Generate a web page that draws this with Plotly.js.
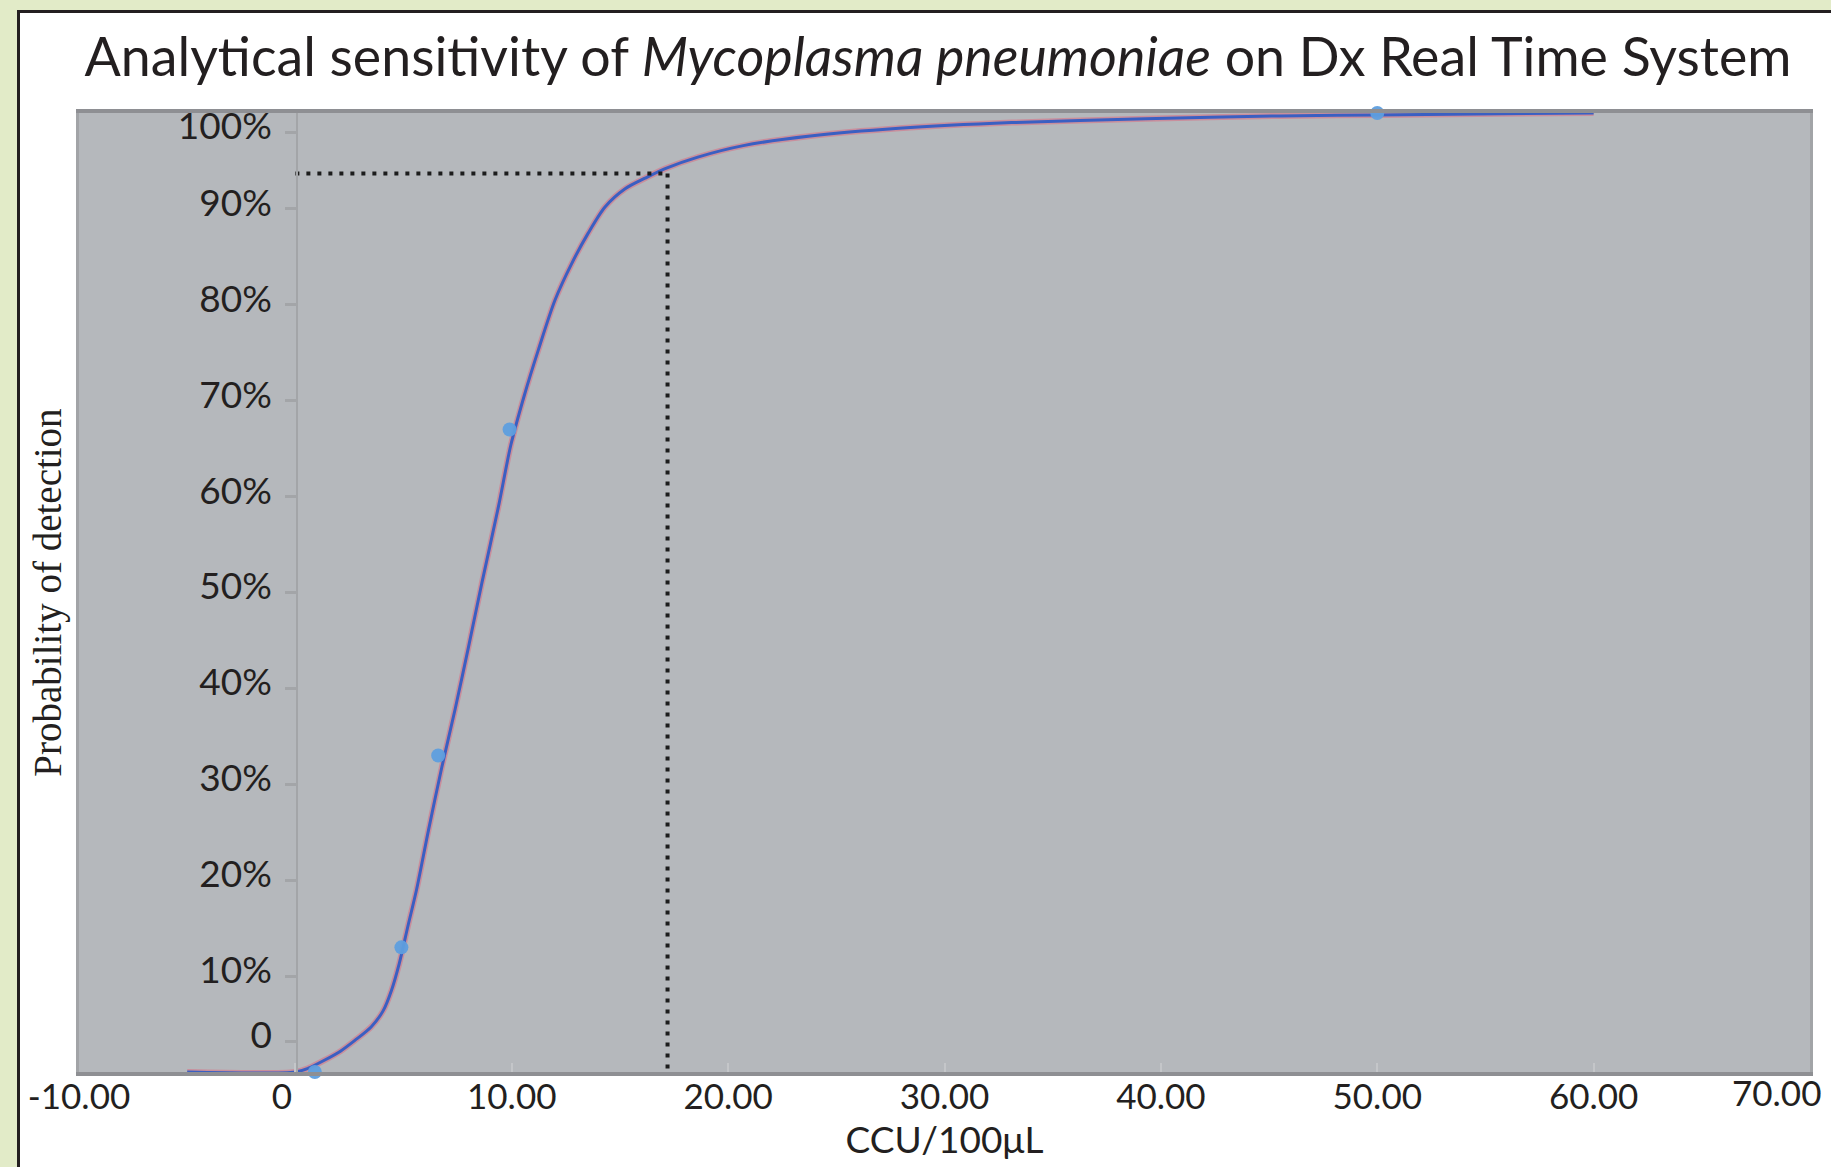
<!DOCTYPE html>
<html>
<head>
<meta charset="utf-8">
<script src="https://cdn.plot.ly/plotly-3.0.1.min.js"></script>
<style>
  html, body { margin: 0; padding: 0; background: #ffffff; }
  #chart { width: 1831px; height: 1167px; }
</style>
</head>
<body>
<div id="chart"></div>
<script>
// ---- Data ----
const curveX = [-5, 0, 0.6, 1.36, 2.1, 2.75, 3.5, 4.06, 4.44, 4.8, 5.2, 5.6, 6.15, 6.77, 7.38, 8.0, 8.62, 9.39, 9.95, 10.6, 11.23, 12.0, 12.77, 13.54, 14.31, 15.24, 16.16, 17.09, 18.6, 20.7, 23.8, 27.9, 33.1, 39.3, 45.5, 50, 60];
const curveY = [0, 0, 0.004, 0.0125, 0.022, 0.033, 0.047, 0.064, 0.085, 0.113, 0.152, 0.19, 0.252, 0.318, 0.378, 0.443, 0.51, 0.59, 0.653, 0.707, 0.753, 0.805, 0.843, 0.875, 0.902, 0.921, 0.932, 0.942, 0.954, 0.966, 0.976, 0.984, 0.99, 0.994, 0.997, 0.998, 1.0];

const pointX = [0.9, 4.9, 6.6, 9.9, 50];
const pointY = [0, 0.13, 0.33, 0.67, 1.0];

const lodX = 17.2;   // CCU/100µL at the dotted guide
const lodY = 0.937;  // probability at the dotted guide

const xTickVals = [-10, 0, 10, 20, 30, 40, 50, 60, 70];
const xTickText = ['-10.00', '0', '10.00', '20.00', '30.00', '40.00', '50.00', '60.00', '70.00'];
const yTickVals = [0.032, 0.1, 0.2, 0.3, 0.4, 0.5, 0.6, 0.7, 0.8, 0.9, 0.98];
const yTickText = ['0', '10%', '20%', '30%', '40%', '50%', '60%', '70%', '80%', '90%', '100%'];

// ---- Layout geometry ----
const W = 1831, H = 1167;
const M = { l: 79, r: 21, t: 113, b: 95 };
const plotW = W - M.l - M.r, plotH = H - M.t - M.b;
const px2x = p => (p - M.l) / plotW;          // pixel -> paper x
const py2y = p => (H - M.b - p) / plotH;      // pixel -> paper y

const green = '#e2ebc8';
const frameColor = '#231f20';
const textColor = '#231f20';
const NB = '\u00a0';

// the last x label sits left of its tick in the reference: draw it as an annotation
const lastIdx = xTickText.length - 1;
const xTickShown = xTickText.map((t, i) => i === lastIdx ? '' : (t === '0' ? t + NB.repeat(3) : t));

const traces = [
  { // pink under-line
    x: curveX, y: curveY, type: 'scatter', mode: 'lines',
    line: { color: '#c98e9c', width: 6, shape: 'spline', smoothing: 0.8 },
    hoverinfo: 'skip', xaxis: 'x', yaxis: 'y'
  },
  { // blue fitted line
    x: curveX, y: curveY, type: 'scatter', mode: 'lines',
    line: { color: '#3a5fc2', width: 3, shape: 'spline', smoothing: 0.8 },
    xaxis: 'x', yaxis: 'y'
  },
  { // observed points
    x: pointX, y: pointY, type: 'scatter', mode: 'markers',
    marker: { color: '#5e9ede', size: 14, opacity: 0.95 },
    cliponaxis: false, xaxis: 'x', yaxis: 'y'
  },
  { // horizontal dotted guide
    x: [0, lodX], y: [lodY, lodY], type: 'scatter', mode: 'lines',
    line: { color: '#1c1c1c', width: 4, dash: '4px,7px' },
    xaxis: 'x', yaxis: 'y2'
  },
  { // vertical dotted guide
    x: [lodX, lodX], y: [lodY, 0], type: 'scatter', mode: 'lines',
    line: { color: '#1c1c1c', width: 4, dash: '4px,7px' },
    xaxis: 'x', yaxis: 'y2'
  }
];

const layout = {
  width: W, height: H,
  margin: M,
  paper_bgcolor: '#ffffff',
  plot_bgcolor: '#b5b8bc',
  showlegend: false,
  title: {
    text: 'Analytical sensitivity of <i>Mycoplasma pneumoniae</i> on Dx Real Time System',
    font: { family: 'Lato', size: 53.7, color: textColor },
    x: 938 / W, xanchor: 'center', xref: 'container',
    y: 1 - 57 / H, yanchor: 'middle', yref: 'container'
  },
  xaxis: {
    range: [-10, 70],
    tickvals: xTickVals, ticktext: xTickShown,
    tickfont: { family: 'Lato', size: 35, color: textColor },
    ticks: 'inside', ticklen: 9, tickwidth: 2, tickcolor: '#c4c6c9',
    ticklabelstandoff: -9,
    showline: true, linecolor: '#8e8f93', linewidth: 4, mirror: true,
    showgrid: false, zeroline: false,
    title: { text: 'CCU/100μL' + NB.repeat(9), font: { family: 'Lato', size: 37, color: textColor }, standoff: 4 }
  },
  yaxis: {
    range: [0, 1],
    showticklabels: false, ticks: '',
    showline: true, linecolor: '#a2a4a7', linewidth: 3, mirror: true,
    showgrid: false, zeroline: false,
    title: { text: 'Probability of detection', font: { family: 'Liberation Serif', size: 39, color: textColor }, standoff: 3 }
  },
  yaxis2: {
    range: [0, 1],
    overlaying: 'y', anchor: 'free', position: px2x(297.3), side: 'left',
    tickvals: yTickVals, ticktext: yTickText,
    tickfont: { family: 'Lato', size: 37, color: textColor },
    ticks: 'outside', ticklen: 11, tickwidth: 3, tickcolor: '#a3a5a8',
    ticklabelstandoff: 6, ticklabelshift: -6,
    showline: true, linecolor: '#a3a5a8', linewidth: 2,
    showgrid: false, zeroline: false
  },
  annotations: [
    { text: xTickText[lastIdx], x: xTickVals[lastIdx], xref: 'x', xanchor: 'right', xshift: 13,
      y: py2y(1092), yref: 'paper', yanchor: 'middle', showarrow: false,
      font: { family: 'Lato', size: 35, color: textColor } }
  ],
  shapes: [
    { type: 'rect', xref: 'paper', yref: 'paper', layer: 'below',
      x0: px2x(0), x1: px2x(17), y0: py2y(H), y1: py2y(0),
      fillcolor: green, line: { width: 0 } },
    { type: 'rect', xref: 'paper', yref: 'paper', layer: 'below',
      x0: px2x(0), x1: px2x(W), y0: py2y(10), y1: py2y(0),
      fillcolor: green, line: { width: 0 } },
    { type: 'line', xref: 'paper', yref: 'paper',
      x0: px2x(18.5), x1: px2x(18.5), y0: py2y(H), y1: py2y(10),
      line: { color: frameColor, width: 3 } },
    { type: 'line', xref: 'paper', yref: 'paper',
      x0: px2x(17), x1: px2x(W), y0: py2y(11.5), y1: py2y(11.5),
      line: { color: frameColor, width: 3 } }
  ]
};

Plotly.newPlot('chart', traces, layout, { staticPlot: true, displayModeBar: false });
</script>
</body>
</html>
